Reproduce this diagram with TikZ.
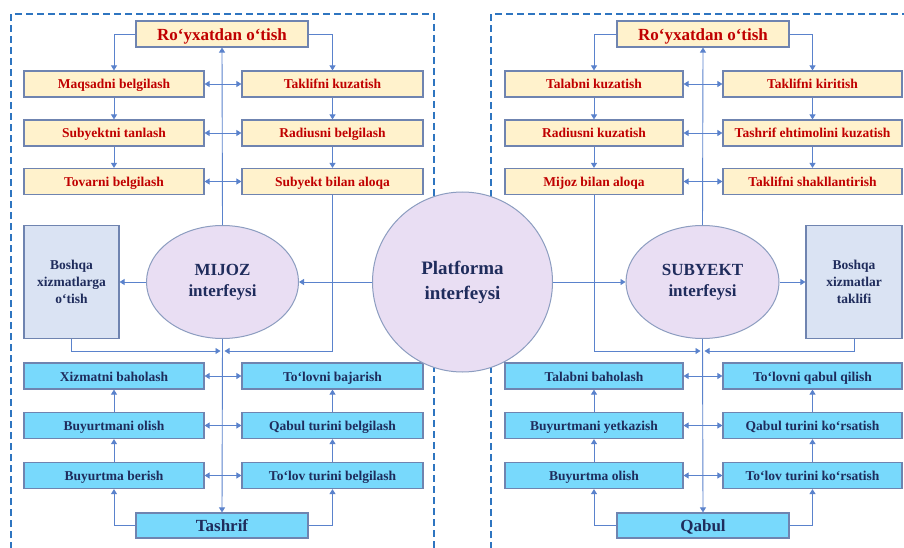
\documentclass[tikz,border=0pt]{standalone}
\usepackage{fontspec}
\setmainfont{Liberation Serif}
\usetikzlibrary{arrows.meta,shapes.geometric}
\definecolor{yel}{HTML}{FFF2CC}
\definecolor{cyanb}{HTML}{78D9FC}
\definecolor{lav}{HTML}{E9DEF3}
\definecolor{grayb}{HTML}{DAE3F3}
\definecolor{boxb}{HTML}{6F84B0}
\definecolor{dred}{HTML}{C00000}
\definecolor{navy}{HTML}{1F2C5C}
\definecolor{arrc}{HTML}{5A82CC}
\definecolor{dashc}{HTML}{2E75C0}
\begin{document}
\begin{tikzpicture}[x=1pt,y=-1pt,
  base/.style={draw=boxb, line width=1.2pt, inner sep=0pt, font=\bfseries},
  ybox/.style={base, fill=yel, text=dred, minimum height=26pt, text height=10pt, text depth=0pt, font=\fontsize{13.5}{16}\selectfont\bfseries},
  cbox/.style={base, fill=cyanb, text=navy, minimum height=26pt, text height=10pt, text depth=0pt, font=\fontsize{13.5}{16}\selectfont\bfseries},
  topbox/.style={base, fill=yel, text=dred, minimum width=172pt, minimum height=26pt, text height=13pt, text depth=0pt, font=\fontsize{17}{20}\selectfont\bfseries},
  botbox/.style={base, fill=cyanb, text=navy, minimum width=172pt, minimum height=25pt, text height=12.5pt, text depth=0pt, font=\fontsize{17}{20}\selectfont\bfseries},
  sidebox/.style={base, draw=boxb, fill=grayb, text=navy, minimum width=95pt, minimum height=113pt, align=center, font=\fontsize{13.5}{17}\selectfont\bfseries},
  ell/.style={ellipse, draw=boxb!80, line width=1pt, fill=lav, text=navy, inner sep=0pt, minimum width=152pt, minimum height=113pt, align=center, font=\fontsize{17}{21}\selectfont\bfseries},
  plat/.style={circle, draw=boxb!80, line width=1pt, fill=lav, text=navy, inner sep=0pt, minimum size=180pt, align=center, font=\fontsize{19}{25}\selectfont\bfseries},
  arr/.style={draw=arrc, line width=0.9pt, -{Triangle[width=6pt,length=5pt]}},
  darr/.style={draw=arrc, line width=0.9pt, {Triangle[width=6pt,length=5pt]}-{Triangle[width=6pt,length=5pt]}},
  dashbox/.style={draw=dashc, line width=2pt, dash pattern=on 7pt off 4pt}
]
\clip (0,0) rectangle (904,548);
\fill[white] (0,0) rectangle (904,548);
% dashed panels
\draw[dashbox] (11,560) -- (11,14) -- (434,14) -- (434,560);
\draw[dashbox] (491,560) -- (491,14) -- (920,14);

% ---------- left panel ----------
\node[topbox] (ltop) at (222,34) {Ro‘yxatdan o‘tish};
\node[ybox, minimum width=180pt] (la1) at (114,84) {Maqsadni belgilash};
\node[ybox, minimum width=180pt] (la2) at (114,133) {Subyektni tanlash};
\node[ybox, minimum width=180pt] (la3) at (114,181.5) {Tovarni belgilash};
\node[ybox, minimum width=181pt] (lb1) at (332.5,84) {Taklifni kuzatish};
\node[ybox, minimum width=181pt] (lb2) at (332.5,133) {Radiusni belgilash};
\node[ybox, minimum width=181pt] (lb3) at (332.5,181.5) {Subyekt bilan aloqa};
\node[sidebox] (lside) at (71.5,282) {Boshqa\\xizmatlarga\\o‘tish};
\node[ell] (mijoz) at (222.5,282) {MIJOZ\\interfeysi};
\node[cbox, minimum width=180pt] (lc1) at (114,376) {Xizmatni baholash};
\node[cbox, minimum width=180pt] (lc2) at (114,425.5) {Buyurtmani olish};
\node[cbox, minimum width=180pt] (lc3) at (114,475.5) {Buyurtma berish};
\node[cbox, minimum width=181pt] (ld1) at (332.5,376) {To‘lovni bajarish};
\node[cbox, minimum width=181pt] (ld2) at (332.5,425.5) {Qabul turini belgilash};
\node[cbox, minimum width=181pt] (ld3) at (332.5,475.5) {To‘lov turini belgilash};
\node[botbox] (lbot) at (222,525.5) {Tashrif};
\coordinate (lm) at (222.5,351);

% ---------- centre ----------
\node[plat] (plat) at (462.5,282) {Platforma\\interfeysi};

% ---------- right panel ----------
\node[topbox] (rtop) at (703,34) {Ro‘yxatdan o‘tish};
\node[ybox, minimum width=178pt] (ra1) at (594,84) {Talabni kuzatish};
\node[ybox, minimum width=178pt] (ra2) at (594,133) {Radiusni kuzatish};
\node[ybox, minimum width=178pt] (ra3) at (594,181.5) {Mijoz bilan aloqa};
\node[ybox, minimum width=179pt] (rb1) at (812.5,84) {Taklifni kiritish};
\node[ybox, minimum width=179pt] (rb2) at (812.5,133) {Tashrif ehtimolini kuzatish};
\node[ybox, minimum width=179pt] (rb3) at (812.5,181.5) {Taklifni shakllantirish};
\node[sidebox, minimum width=96pt] (rside) at (854,282) {Boshqa\\xizmatlar\\taklifi};
\node[ell, minimum width=153pt] (subyekt) at (702.5,282) {SUBYEKT\\interfeysi};
\node[cbox, minimum width=178pt] (rc1) at (594,376) {Talabni baholash};
\node[cbox, minimum width=178pt] (rc2) at (594,425.5) {Buyurtmani yetkazish};
\node[cbox, minimum width=178pt] (rc3) at (594,475.5) {Buyurtma olish};
\node[cbox, minimum width=179pt] (rd1) at (812.5,376) {To‘lovni qabul qilish};
\node[cbox, minimum width=179pt] (rd2) at (812.5,425.5) {Qabul turini ko‘rsatish};
\node[cbox, minimum width=179pt] (rd3) at (812.5,475.5) {To‘lov turini ko‘rsatish};
\node[botbox] (rbot) at (703,525.5) {Qabul};
\coordinate (rm) at (702.5,351);

% ---------- left connectors ----------
\draw[arr] (ltop.west) -| (la1.north);
\draw[arr] (ltop.east) -| (lb1.north);
\draw[arr] (la1.south) -- (la2.north);
\draw[arr] (la2.south) -- (la3.north);
\draw[arr] (lb1.south) -- (lb2.north);
\draw[arr] (lb2.south) -- (lb3.north);
\draw[darr] (la1.east) -- (lb1.west);
\draw[darr] (la2.east) -- (lb2.west);
\draw[darr] (la3.east) -- (lb3.west);
\draw[arr] (mijoz.north) -- (ltop.south);
\draw[arr] (mijoz.west) -- (lside.east);
\draw[arr] (plat.west) -- (mijoz.east);
\draw[arr] (mijoz.south) -- (lbot.north);
\draw[arr, shorten >=2pt] (lside.south) |- (lm);
\draw[arr, shorten >=2pt] (lb3.south) |- (lm);
\draw[arr] (lbot.west) -| (lc3.south);
\draw[arr] (lbot.east) -| (ld3.south);
\draw[arr] (lc3.north) -- (lc2.south);
\draw[arr] (lc2.north) -- (lc1.south);
\draw[arr] (ld3.north) -- (ld2.south);
\draw[arr] (ld2.north) -- (ld1.south);
\draw[darr] (lc1.east) -- (ld1.west);
\draw[darr] (lc2.east) -- (ld2.west);
\draw[darr] (lc3.east) -- (ld3.west);

% ---------- right connectors ----------
\draw[arr] (rtop.west) -| (ra1.north);
\draw[arr] (rtop.east) -| (rb1.north);
\draw[arr] (ra1.south) -- (ra2.north);
\draw[arr] (ra2.south) -- (ra3.north);
\draw[arr] (rb1.south) -- (rb2.north);
\draw[arr] (rb2.south) -- (rb3.north);
\draw[darr] (ra1.east) -- (rb1.west);
\draw[darr] (ra2.east) -- (rb2.west);
\draw[darr] (ra3.east) -- (rb3.west);
\draw[arr] (subyekt.north) -- (rtop.south);
\draw[arr] (plat.east) -- (subyekt.west);
\draw[arr] (subyekt.east) -- (rside.west);
\draw[arr] (subyekt.south) -- (rbot.north);
\draw[arr, shorten >=2pt] (ra3.south) |- (rm);
\draw[arr, shorten >=2pt] (rside.south) |- (rm);
\draw[arr] (rbot.west) -| (rc3.south);
\draw[arr] (rbot.east) -| (rd3.south);
\draw[arr] (rc3.north) -- (rc2.south);
\draw[arr] (rc2.north) -- (rc1.south);
\draw[arr] (rd3.north) -- (rd2.south);
\draw[arr] (rd2.north) -- (rd1.south);
\draw[darr] (rc1.east) -- (rd1.west);
\draw[darr] (rc2.east) -- (rd2.west);
\draw[darr] (rc3.east) -- (rd3.west);
\end{tikzpicture}
\end{document}
